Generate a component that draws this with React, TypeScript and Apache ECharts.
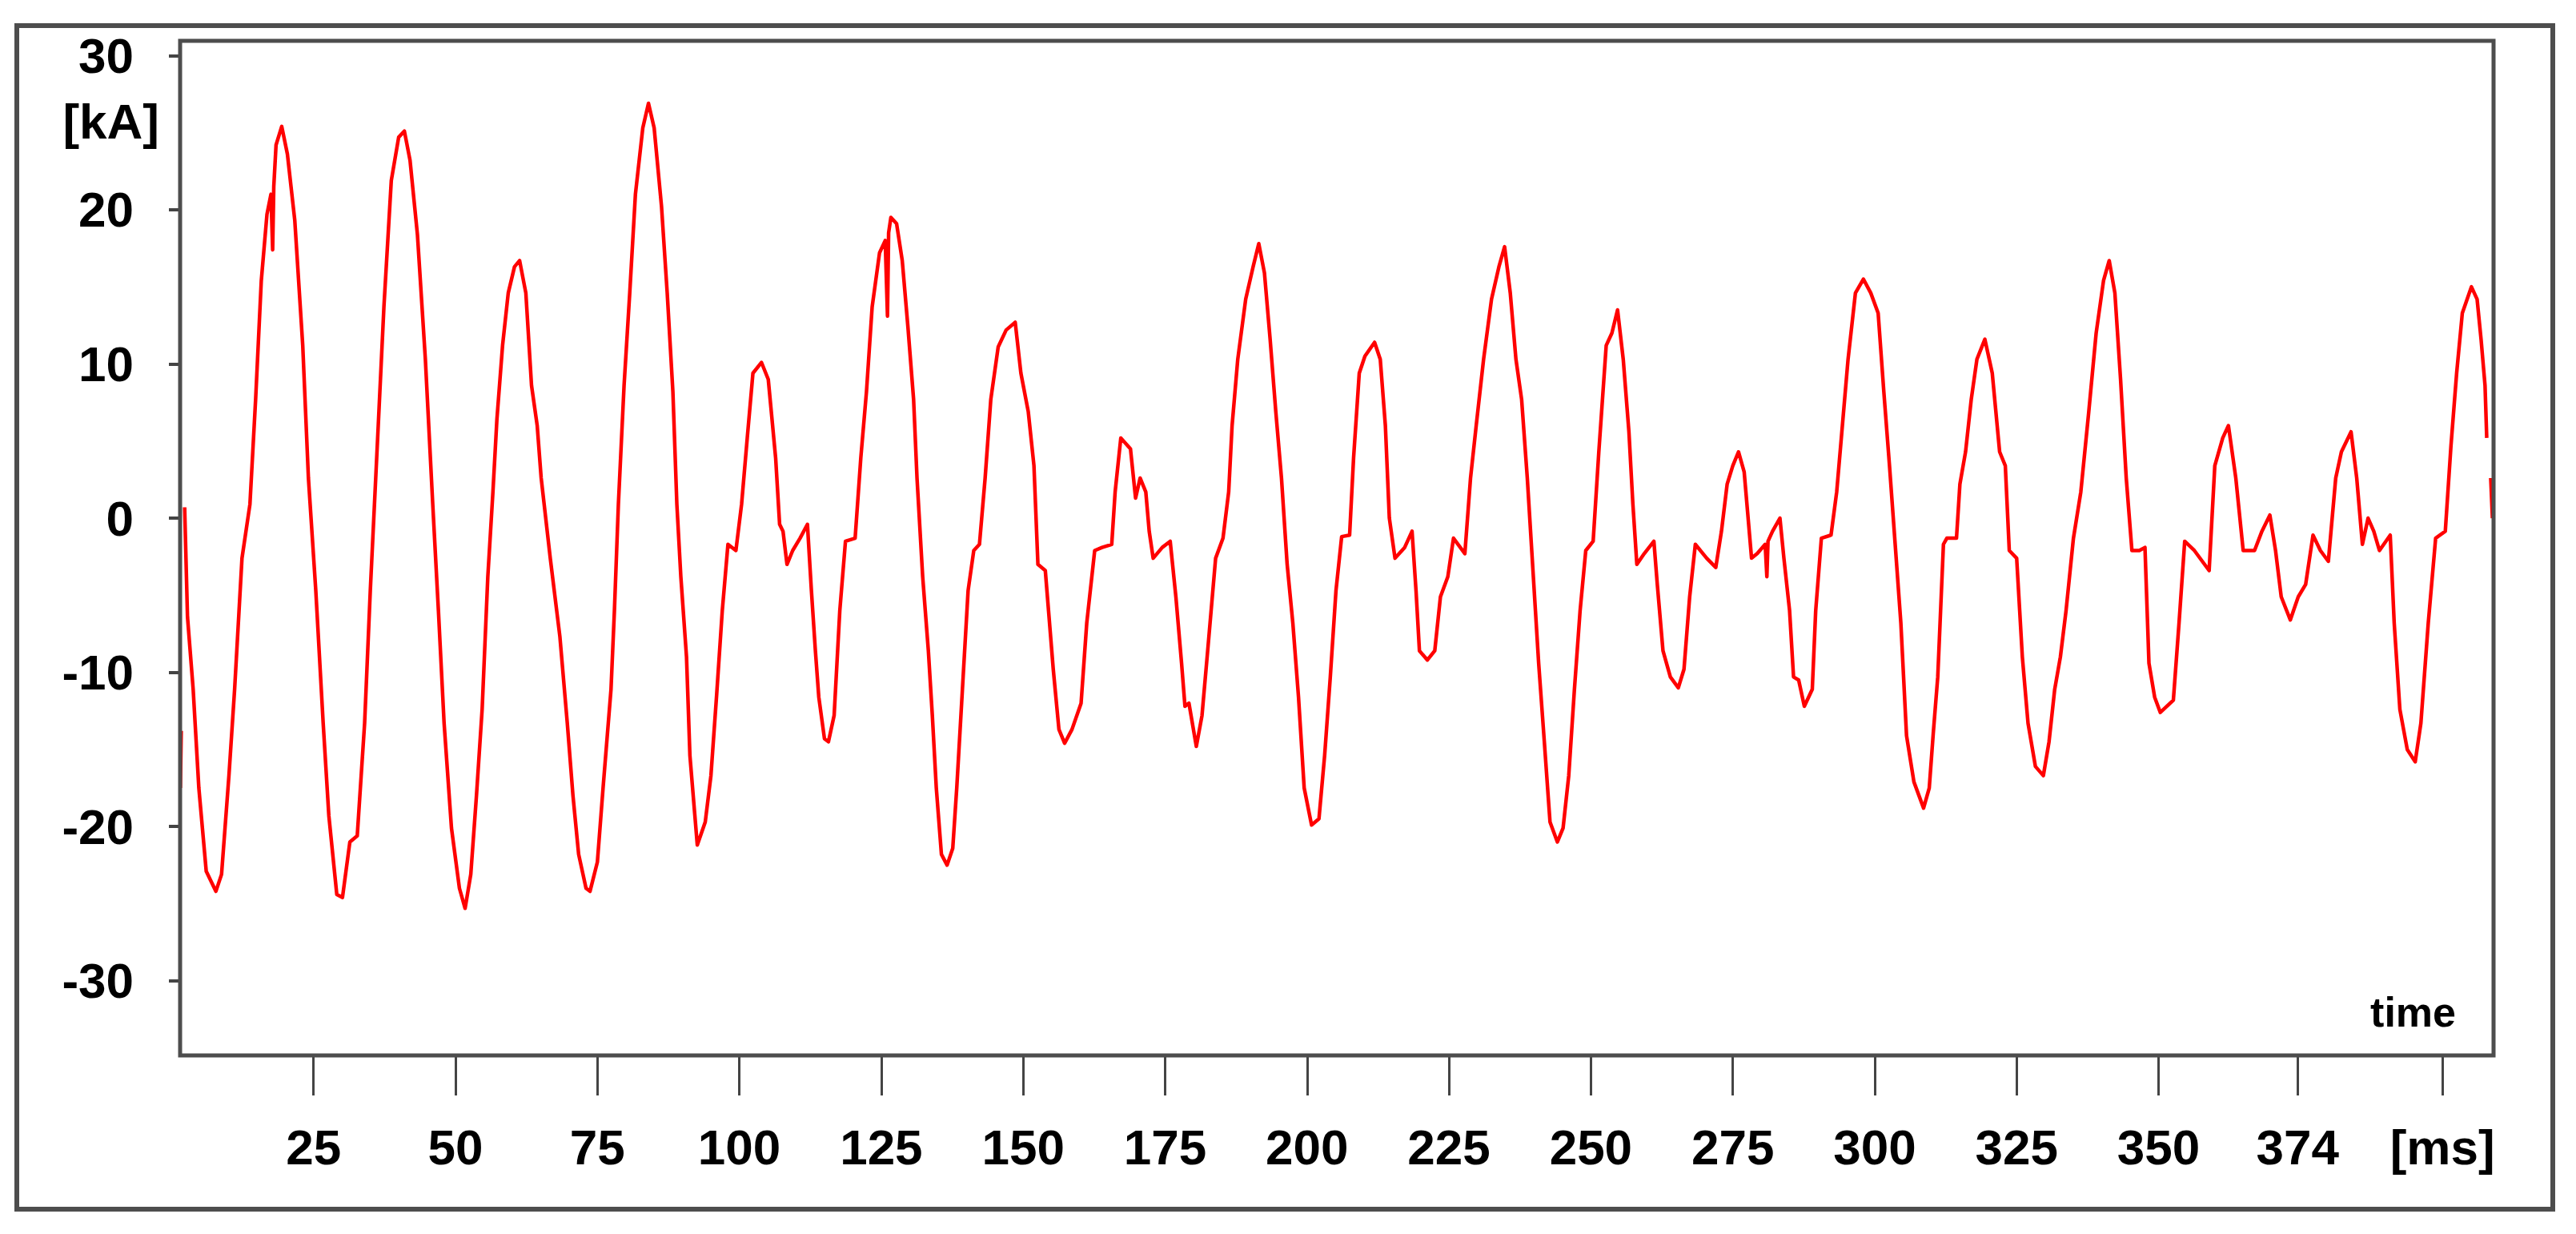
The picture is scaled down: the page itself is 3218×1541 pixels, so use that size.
import React, { useEffect, useRef } from "react";
import * as echarts from "echarts";

// Time stamps of the recorded trace [ms] (null current = gap in trace)
const traceMs: number[] = [
  1.55, 1.7, 1.9,
  2.3, 2.8, 3.8, 4.8, 6.1, 7.8, 8.8, 10.1, 11.1, 12.4, 13.8, 14.8, 15.8, 16.8, 17.5, 17.8, 18.0, 18.4, 19.4,
  20.4, 21.7, 23.1, 24.1, 25.4, 26.7, 27.7, 29.1, 30.1, 31.4, 32.7, 34.0, 35.0, 36.4, 37.4, 38.7, 40.0, 41.0,
  42.0, 43.3, 44.7, 46.0, 47.0, 48.0, 49.3, 50.7, 51.7, 52.7, 53.7, 54.7, 55.7, 56.6, 57.3, 58.3, 59.3, 60.4,
  61.3, 62.4, 63.4, 64.4, 65.1, 66.7, 68.4, 69.7, 70.7, 71.7, 73.0, 73.7, 75.0, 76.0, 77.4, 78.0, 78.7, 79.7,
  80.7, 81.7, 83.0, 84.0, 85.0, 86.3, 87.3, 88.3, 89.0, 89.7, 90.7, 91.3, 92.6, 94.0, 95.0, 96.0, 97.0, 98.0,
  99.4, 100.4, 101.4, 102.4, 103.9, 105.1, 106.4, 107.1, 107.7, 108.4, 109.4, 110.7, 112.0, 112.7, 113.4, 114.0,
  115.0, 115.7, 116.7, 117.7, 118.7, 120.4, 121.4, 122.4, 123.4, 124.7, 125.7, 126.1, 126.3, 126.7, 127.7, 128.7,
  129.7, 130.7, 131.3, 132.3, 133.3, 134.0, 134.7, 135.6, 136.6, 137.6, 138.3, 139.3, 140.3, 141.3, 142.3, 143.3,
  144.3, 145.6, 147.0, 148.6, 149.6, 150.9, 151.9, 152.6, 153.9, 155.3, 156.3, 157.3, 158.6, 160.2, 161.2, 162.6,
  163.9, 165.6, 166.2, 167.2, 168.9, 169.8, 170.6, 171.6, 172.2, 172.9, 174.5, 175.9, 176.9, 177.9, 178.5, 179.2,
  180.5, 181.5, 182.5, 183.9, 185.2, 186.2, 186.8, 187.8, 189.2, 190.5, 191.5, 192.5, 193.5, 194.5, 195.5, 196.5,
  197.5, 198.5, 199.5, 200.8, 202.1, 203.1, 204.1, 205.1, 206.1, 207.5, 208.2, 209.2, 210.2, 211.9, 212.9, 213.8,
  214.5, 215.5, 217.2, 218.5, 219.2, 219.8, 221.2, 222.5, 223.5, 224.8, 225.8, 227.8, 228.8, 229.8, 231.1, 232.5,
  233.8, 234.8, 235.8, 236.8, 237.8, 238.8, 239.8, 240.8, 241.8, 242.8, 244.1, 245.1, 246.1, 247.1, 248.1, 249.1,
  250.4, 251.4, 252.7, 253.7, 254.7, 255.7, 256.7, 257.4, 258.1, 259.4, 261.1, 261.7, 262.7, 264.0, 265.4, 266.4,
  267.4, 268.4, 270.4, 272.0, 273.0, 274.0, 275.0, 276.0, 277.0, 278.3, 279.3, 280.7, 281.0, 281.2, 282.0, 283.3,
  284.0, 285.0, 285.7, 286.6, 287.6, 289.0, 289.6, 290.6, 292.3, 293.3, 294.3, 295.3, 296.6, 298.0, 299.3, 300.6,
  301.6, 302.6, 303.6, 304.6, 305.6, 306.9, 308.6, 309.6, 310.3, 311.1, 312.1, 312.7, 314.4, 315.0, 316.0, 317.0,
  318.0, 319.4, 320.7, 322.0, 323.0, 323.7, 325.0, 326.0, 327.0, 328.3, 329.7, 330.7, 331.7, 332.7, 333.7, 335.0,
  336.3, 337.7, 339.0, 340.3, 341.3, 342.3, 343.3, 344.3, 345.3, 346.6, 347.6, 348.3, 349.3, 350.3, 352.6, 353.6,
  354.6, 356.3, 358.9, 359.9, 361.3, 362.3, 363.6, 364.9, 366.9, 368.2, 369.6, 370.6, 371.6, 373.2, 374.6, 375.9,
  377.2, 378.5, 379.9, 381.2, 382.2, 383.9, 384.9, 385.9, 386.9, 387.9, 388.9, 390.8, 391.5, 392.5, 393.8, 395.2,
  396.2, 397.5, 398.8, 400.5, 401.5, 402.5, 403.5, 405.1, 406.1, 406.8, 407.5, 407.8, 408.1, 408.5, 408.8,
];

// Short-circuit current [kA]
const traceKA: (number | null)[] = [
  -17.5, -13.8, null,
  0.7, -6.4, -11.1, -17.5, -22.9, -24.2, -23.1, -16.7, -11.1, -2.6, 0.9, 7.7, 15.4, 19.7, 21.0, 17.4, 21.5, 24.2, 25.4,
  23.6, 19.3, 11.2, 2.6, -4.7, -13.3, -19.3, -24.4, -24.6, -21.0, -20.6, -13.3, -4.7, 6.0, 13.7, 21.9, 24.7, 25.1,
  23.2, 18.4, 10.3, 0.9, -6.0, -13.3, -20.1, -24.0, -25.3, -23.1, -18.0, -12.4, -3.8, 1.7, 6.4, 11.2, 14.6, 16.3,
  16.7, 14.6, 8.6, 6.0, 2.6, -2.6, -7.7, -13.3, -18.0, -21.8, -24.0, -24.2, -22.3, -17.5, -11.1, -6.0, 0.9, 8.6,
  14.6, 21.0, 25.3, 26.9, 25.3, 20.2, 14.6, 8.2, 0.9, -3.8, -9.0, -15.4, -21.2, -19.7, -16.7, -11.5, -6.0, -1.7,
  -2.1, 0.9, 5.2, 9.4, 10.1, 9.0, 3.9, -0.4, -0.85, -3.0, -2.1, -1.3, -0.4, -4.7, -8.6, -11.6,
  -14.3, -14.5, -12.8, -6.0, -1.5, -1.3, 3.9, 8.2, 13.7, 17.2, 18.0, 13.1, 18.5, 19.5, 19.1, 16.7,
  12.4, 7.7, 2.6, -3.8, -8.6, -12.8, -17.5, -21.8, -22.5, -21.4, -17.5, -11.1, -4.7, -2.1, -1.7, 2.6,
  7.7, 11.1, 12.2, 12.7, 9.4, 6.9, 3.4, -3.0, -3.4, -9.8, -13.7, -14.6, -13.7, -12.0, -6.8, -2.1,
  -1.9, -1.7, 1.7, 5.2, 4.5, 1.3, 2.6, 1.7, -0.85, -2.6, -1.9, -1.5, -5.1, -9.4, -12.2, -12.0,
  -14.8, -12.8, -8.6, -2.6, -1.3, 1.7, 6.0, 10.3, 14.2, 16.3, 17.8, 15.9, 11.6, 6.9, 2.6, -3.0,
  -6.8, -11.6, -17.5, -19.9, -19.5, -15.4, -10.3, -4.7, -1.2, -1.1, 3.9, 9.4, 10.5, 11.4, 10.3, 6.0,
  0.0, -2.6, -1.9, -0.85, -4.7, -8.6, -9.2, -8.6, -5.1, -3.8, -1.3, -2.3, 2.6, 6.0, 10.3, 14.2,
  16.3, 17.6, 14.6, 10.3, 7.7, 2.6, -3.4, -9.4, -14.5, -19.7, -21.0, -20.1, -16.7, -11.1, -6.0, -2.1,
  -1.5, 4.3, 11.2, 12.0, 13.5, 10.3, 5.6, 0.9, -3.0, -2.3, -1.5, -4.3, -8.6, -10.3, -11.0, -9.8,
  -5.1, -1.7, -2.6, -3.2, -0.85, 2.2, 3.4, 4.3, 3.0, -2.6, -2.3, -1.7, -3.8, -1.5, -0.85, 0.0,
  -2.6, -6.0, -10.3, -10.5, -12.2, -11.1, -6.0, -1.3, -1.1, 1.7, 6.0, 10.3, 14.6, 15.5, 14.6, 13.3,
  8.2, 3.4, -1.7, -6.8, -14.1, -17.1, -18.8, -17.5, -14.0, -10.3, -1.7, -1.3, -1.3, 2.2, 4.3, 7.7,
  10.3, 11.6, 9.4, 4.3, 3.4, -2.1, -2.6, -9.0, -13.3, -16.1, -16.7, -14.5, -11.1, -9.0, -6.0, -1.3,
  1.7, 6.9, 12.0, 15.4, 16.7, 14.6, 9.0, 2.6, -2.1, -2.1, -1.9, -9.4, -11.6, -12.6, -11.8, -6.8,
  -1.5, -2.1, -3.4, 3.4, 5.2, 6.0, 2.6, -2.1, -2.1, -0.85, 0.2, -2.1, -5.1, -6.6, -5.1, -4.3,
  -1.1, -2.1, -2.8, 2.6, 4.3, 5.6, 2.6, -1.7, 0.0, -0.85, -2.1, -1.1, -6.8, -12.4, -15.0, -15.8,
  -13.3, -6.8, -1.3, -0.85, 4.7, 9.4, 13.3, 15.0, 14.2, 11.6, 8.6, 5.2, null, 2.6, 0.0,
];

// Axis ticks and their labels
const xTickValues: number[] = [25, 50, 75, 100, 125, 150, 175, 200, 225, 250, 275, 300, 325, 350, 374.5, 400];
const xTickLabels: string[] = ["25", "50", "75", "100", "125", "150", "175", "200", "225", "250", "275", "300", "325", "350", "374", "[ms]"];
const yTickValues: number[] = [30, 20, 10, 0, -10, -20, -30];
const yTickLabels: string[] = ["30", "20", "10", "0", "-10", "-20", "-30"];
const yUnit = "[kA]";
const xTitle = "time";

const FONT = "'Liberation Sans', Arial, Helvetica, sans-serif";
const FRAME = "#4d4d4d";

export default function App() {
  const ref = useRef<HTMLDivElement>(null);

  useEffect(() => {
    if (!ref.current) return;
    const chart = echarts.init(ref.current, undefined, { renderer: "svg" });

    const data = traceMs.map((t, k) => [t, traceKA[k] === null ? "-" : traceKA[k]]);

    const findLabel = (vals: number[], labs: string[], v: number) => {
      for (let k = 0; k < vals.length; k++) {
        if (Math.abs(vals[k] - v) < 1e-6) return labs[k];
      }
      return String(v);
    };

    chart.setOption({
      animation: false,
      backgroundColor: "#ffffff",
      grid: {
        left: 225,
        top: 51,
        right: 103,
        bottom: 223,
        show: false,
      },
      xAxis: {
        type: "value",
        min: 1.5,
        max: 409,
        axisLine: { show: false, onZero: false },
        splitLine: { show: false },
        axisTick: {
          show: true,
          customValues: xTickValues,
          length: 50,
          lineStyle: { color: "#444444", width: 3 },
        },
        axisLabel: {
          customValues: xTickValues,
          formatter: (v: number) => findLabel(xTickValues, xTickLabels, v),
          fontFamily: FONT,
          fontWeight: "bold",
          fontSize: 62,
          color: "#000000",
          margin: 114,
          verticalAlign: "middle",
        },
      },
      yAxis: {
        type: "value",
        min: -34.84,
        max: 30.95,
        axisLine: { show: false, onZero: false },
        splitLine: { show: false },
        axisTick: {
          show: true,
          customValues: yTickValues,
          length: 14,
          lineStyle: { color: "#444444", width: 4 },
        },
        axisLabel: {
          customValues: yTickValues,
          formatter: (v: number) => findLabel(yTickValues, yTickLabels, v),
          fontFamily: FONT,
          fontWeight: "bold",
          fontSize: 62,
          color: "#000000",
          margin: 58,
        },
      },
      graphic: [
        {
          type: "rect",
          shape: { x: 21, y: 32, width: 3168, height: 1478 },
          style: { fill: "none", stroke: FRAME, lineWidth: 6 },
          silent: true,
          z: 20,
        },
        {
          type: "rect",
          shape: { x: 225, y: 51, width: 2890, height: 1267 },
          style: { fill: "none", stroke: FRAME, lineWidth: 5 },
          silent: true,
          z: 20,
        },
        {
          type: "text",
          x: 199,
          y: 151,
          style: {
            text: yUnit,
            fontFamily: FONT,
            fontWeight: "bold",
            fontSize: 62,
            fill: "#000000",
            align: "right",
            verticalAlign: "middle",
          },
        },
        {
          type: "text",
          x: 3068,
          y: 1264,
          style: {
            text: xTitle,
            fontFamily: FONT,
            fontWeight: "bold",
            fontSize: 52,
            fill: "#000000",
            align: "right",
            verticalAlign: "middle",
          },
          z: 10,
        },
      ],
      series: [
        {
          type: "line",
          data,
          symbol: "none",
          showSymbol: false,
          connectNulls: false,
          clip: true,
          lineStyle: { color: "#ff0000", width: 4.5, join: "round" },
          z: 5,
        },
      ],
    });

    return () => {
      chart.dispose();
    };
  }, []);

  return (
    <div
      ref={ref}
      style={{
        position: "absolute",
        left: 0,
        top: 0,
        width: 3218,
        height: 1541,
        background: "#ffffff",
      }}
    />
  );
}
